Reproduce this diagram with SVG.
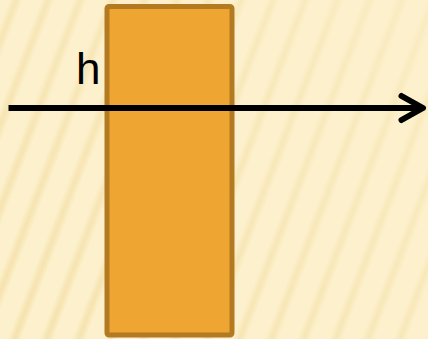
<svg xmlns="http://www.w3.org/2000/svg" width="428" height="339" viewBox="0 0 428 339">
  <defs>
    <linearGradient id="stripeGrad" x1="0" y1="0" x2="1" y2="0">
      <stop offset="0" stop-color="#EDD28A" stop-opacity="0"/>
      <stop offset="0.28" stop-color="#EDD28A" stop-opacity="0"/>
      <stop offset="0.5" stop-color="#EDD28A" stop-opacity="0.5"/>
      <stop offset="0.72" stop-color="#EDD28A" stop-opacity="0"/>
      <stop offset="1" stop-color="#EDD28A" stop-opacity="0"/>
    </linearGradient>
    <pattern id="stripes" patternUnits="userSpaceOnUse" width="30" height="20" patternTransform="rotate(21)">
      <rect x="0" y="0" width="30" height="20" fill="url(#stripeGrad)"/>
    </pattern>
    <linearGradient id="fadeGrad" gradientUnits="userSpaceOnUse" x1="0" y1="339" x2="428" y2="0">
      <stop offset="0" stop-color="#fff" stop-opacity="1"/>
      <stop offset="1" stop-color="#fff" stop-opacity="0.35"/>
    </linearGradient>
    <mask id="fadeMask">
      <rect x="0" y="0" width="428" height="339" fill="url(#fadeGrad)"/>
    </mask>
    <marker id="chevron" markerUnits="userSpaceOnUse" viewBox="0 0 30 34" refX="26" refY="17" markerWidth="30" markerHeight="34" orient="auto">
      <polyline points="4.5,5 26,17 4.5,29" fill="none" stroke="#000" stroke-width="6" stroke-linecap="round" stroke-linejoin="round"/>
    </marker>
    <style>
      .block { fill: #EFA532; stroke: #B47A22; stroke-width: 5; }
      .conn { stroke: #000; stroke-width: 6; fill: none; }
      .lbl { font-family: "Liberation Sans", Arial, sans-serif; font-size: 44px; fill: #000; }
    </style>
  </defs>
  <rect x="0" y="0" width="428" height="339" fill="#FDF1CD"/>
  <rect x="0" y="0" width="428" height="339" fill="url(#stripes)" mask="url(#fadeMask)"/>
  <g id="block">
    <rect class="block" x="107" y="6.5" width="125" height="328.5" rx="2" ry="2"/>
  </g>
  <g id="connectors">
    <line class="conn" x1="8.5" y1="108" x2="423" y2="108" marker-end="url(#chevron)"/>
  </g>
  <g id="label-h">
    <text class="lbl" x="76" y="83.5">h</text>
  </g>
</svg>
